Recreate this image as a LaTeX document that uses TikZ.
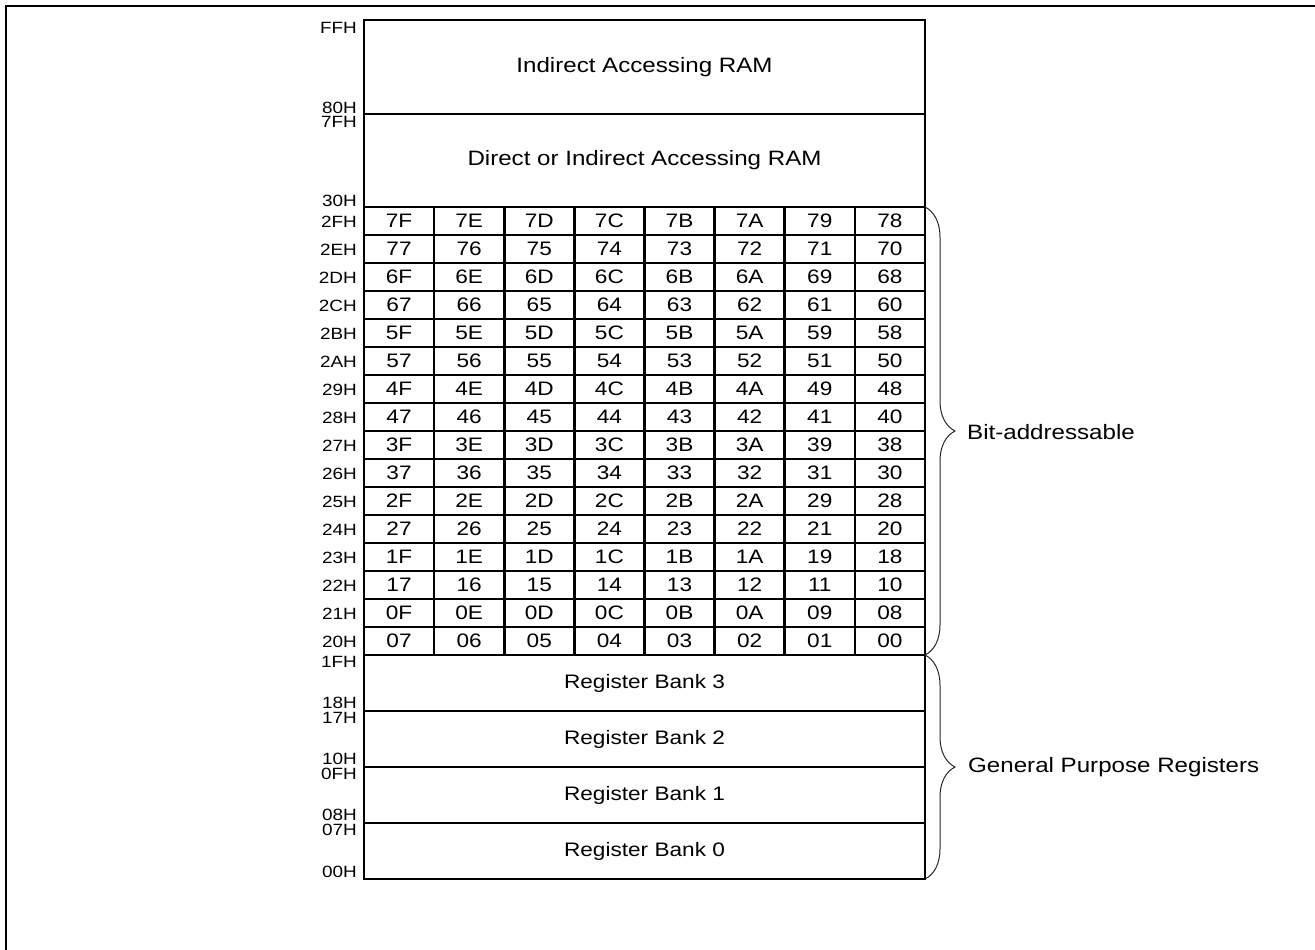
\documentclass[tikz,border=0pt]{standalone}
\usepackage{fontspec}
\setmainfont{Liberation Sans}[FakeStretch=1.16]
\usetikzlibrary{decorations.pathreplacing}
\begin{document}
\begin{tikzpicture}[x=1pt,y=-1pt,
  region/.style={draw,line width=2.8pt,inner sep=0pt,outer sep=0pt,minimum width=561pt,font=\fontsize{20.8}{24}\selectfont},
  bank/.style={region,minimum height=56pt,font=\fontsize{19.5}{22}\selectfont},
  cellbox/.style={draw,line width=2.6pt,inner sep=0pt,outer sep=0pt,minimum width=70.125pt,minimum height=28pt,font=\fontsize{19.5}{22}\selectfont},
  addr/.style={anchor=east,inner sep=0pt,font=\fontsize{16.3}{18}\selectfont},
  bracestyle/.style={decorate,decoration={brace,amplitude=30pt},line width=1pt,black!85},
  bracetext/.style={anchor=west,inner sep=0pt,font=\fontsize{20.8}{24}\selectfont},
  frameline/.style={line width=1.5pt}]
\useasboundingbox (0,0) rectangle (1315,950);
\draw[frameline] (6,950) -- (6,6) -- (1315,6);

% upper regions
\node[region,minimum height=94pt] (iram) at (644.5,67) {Indirect Accessing RAM};
\node[region,minimum height=93pt] (diram) at (644.5,160.5) {Direct or Indirect Accessing RAM};

% bit-addressable grid
\foreach \row [count=\r from 0] in {
 {7F,7E,7D,7C,7B,7A,79,78},{77,76,75,74,73,72,71,70},
 {6F,6E,6D,6C,6B,6A,69,68},{67,66,65,64,63,62,61,60},
 {5F,5E,5D,5C,5B,5A,59,58},{57,56,55,54,53,52,51,50},
 {4F,4E,4D,4C,4B,4A,49,48},{47,46,45,44,43,42,41,40},
 {3F,3E,3D,3C,3B,3A,39,38},{37,36,35,34,33,32,31,30},
 {2F,2E,2D,2C,2B,2A,29,28},{27,26,25,24,23,22,21,20},
 {1F,1E,1D,1C,1B,1A,19,18},{17,16,15,14,13,12,11,10},
 {0F,0E,0D,0C,0B,0A,09,08},{07,06,05,04,03,02,01,00}} {
  \foreach \v [count=\c from 0] in \row {
    \node[cellbox] (cell-\r-\c) at ({364+70.125*(\c+0.5)},{207+28*(\r+0.5)}) {\v};
  }
}
\foreach \lab [count=\r from 0] in {2FH,2EH,2DH,2CH,2BH,2AH,29H,28H,27H,26H,25H,24H,23H,22H,21H,20H} {
  \node[addr] (rowlab-\r) at (357,{207+28*(\r+0.5)+1}) {\lab};
}

% register banks
\node[bank] (bank3) at (644.5,683) {Register Bank 3};
\node[bank] (bank2) at (644.5,739) {Register Bank 2};
\node[bank] (bank1) at (644.5,795) {Register Bank 1};
\node[bank] (bank0) at (644.5,851) {Register Bank 0};

% boundary address labels
\node[addr] (aFF) at (357,28) {FFH};
\node[addr] (a80) at (357,107.5) {80H};
\node[addr] (a7F) at (357,122) {7FH};
\node[addr] (a30) at (357,201) {30H};
\node[addr] (a1F) at (357,662) {1FH};
\node[addr] (a18) at (357,703) {18H};
\node[addr] (a17) at (357,717.5) {17H};
\node[addr] (a10) at (357,759) {10H};
\node[addr] (a0F) at (357,774) {0FH};
\node[addr] (a08) at (357,815) {08H};
\node[addr] (a07) at (357,830) {07H};
\node[addr] (a00) at (357,872) {00H};

% braces
\draw[bracestyle] (cell-0-7.north east) -- (cell-15-7.south east);
\node[bracetext] (bitlab) at (967,432) {Bit-addressable};
\draw[bracestyle] (bank3.north east) -- (bank0.south east);
\node[bracetext] (gprlab) at (968,767) {General Purpose Registers};
\end{tikzpicture}
\end{document}
